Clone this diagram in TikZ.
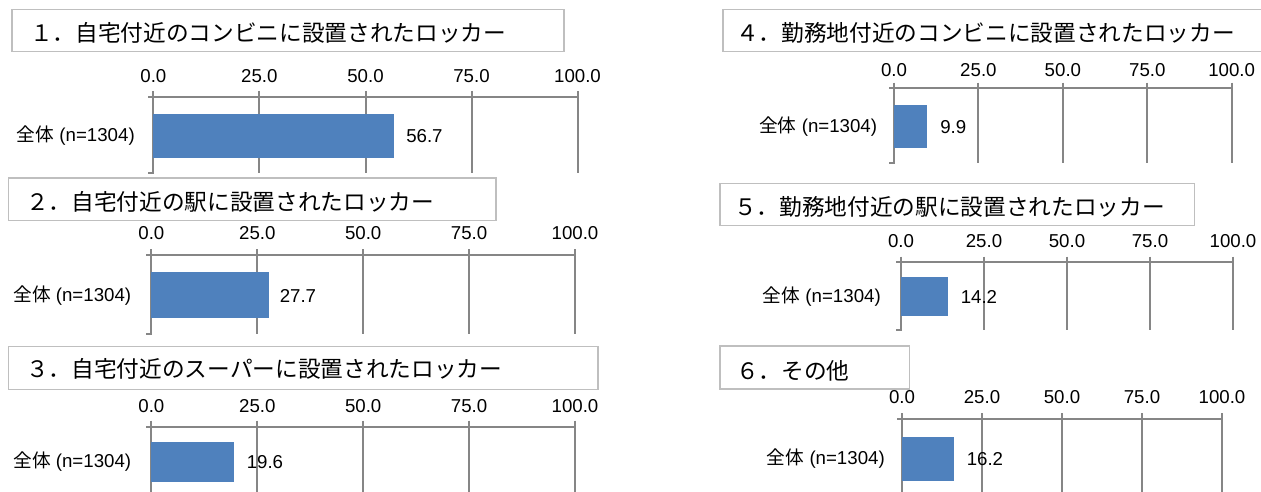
\documentclass[tikz,border=0pt]{standalone}
\usepackage{fontspec}
\setmainfont{Liberation Sans}
\newfontfamily\jpfont{Noto Sans CJK JP}
\usepackage{tikz}

\definecolor{barblue}{RGB}{79,129,189}
\definecolor{gridgray}{RGB}{134,134,134}
\definecolor{boxgray}{RGB}{191,191,191}

\begin{document}
\begin{tikzpicture}[x=0.75pt,y=0.75pt,yscale=-1,xscale=1,
  gridln/.style={draw=gridgray,line width=1.5pt},
  barfill/.style={fill=barblue,draw=none},
  ttlbox/.style={draw=boxgray,line width=1.1pt,fill=white},
  ttltxt/.style={anchor=west,inner sep=0.75pt,font=\jpfont\fontsize{17}{19}\selectfont},
  ticktxt/.style={anchor=center,inner sep=0.75pt,font=\fontsize{14}{16}\selectfont},
  valtxt/.style={anchor=west,inner sep=0.75pt,font=\fontsize{14}{16}\selectfont},
  cattxt/.style={anchor=east,inner sep=0.75pt,font=\fontsize{14}{16}\selectfont}]
\useasboundingbox (0,0) rectangle (1261,492);

%%%%%%%% Panel 1
%Shape: Rectangle
\draw [ttlbox] (12,9.5) rectangle (564,51.7);
\draw (29,33) node [ttltxt] (ttl1) {１．自宅付近のコンビニに設置されたロッカー};
% Text Node
\draw (153.4,76) node [ticktxt] (a1t0) {0.0};
\draw (259.4,76) node [ticktxt] (a1t1) {25.0};
\draw (365.5,76) node [ticktxt] (a1t2) {50.0};
\draw (471.5,76) node [ticktxt] (a1t3) {75.0};
\draw (577.5,76) node [ticktxt] (a1t4) {100.0};
%Straight Lines
\draw [gridln] (148,97) -- (577.5,97);
\draw [gridln] (153.4,91) -- (153.4,173) -- (148,173);
\draw [gridln] (259.4,91) -- (259.4,173);
\draw [gridln] (365.5,91) -- (365.5,173);
\draw [gridln] (471.5,91) -- (471.5,173);
\draw [gridln] (577.5,91) -- (577.5,173);
%Shape: Rectangle
\draw [barfill] (153.4,114) rectangle (394,157.5);
\draw (405,136) node [valtxt] (v1) {56.7};
\draw (136,136) node [cattxt] (c1) {{\jpfont 全体} (n=1304)};

%%%%%%%% Panel 2
%Shape: Rectangle
\draw [ttlbox] (8.7,178) rectangle (496,220.7);
\draw (25,202) node [ttltxt] (ttl2) {２．自宅付近の駅に設置されたロッカー};
% Text Node
\draw (151.4,232.7) node [ticktxt] (a2t0) {0.0};
\draw (257.3,232.7) node [ticktxt] (a2t1) {25.0};
\draw (363.2,232.7) node [ticktxt] (a2t2) {50.0};
\draw (469.1,232.7) node [ticktxt] (a2t3) {75.0};
\draw (575,232.7) node [ticktxt] (a2t4) {100.0};
%Straight Lines
\draw [gridln] (146,255) -- (575,255);
\draw [gridln] (151.4,249) -- (151.4,334) -- (146,334);
\draw [gridln] (257.3,249) -- (257.3,334);
\draw [gridln] (363.2,249) -- (363.2,334);
\draw [gridln] (469.1,249) -- (469.1,334);
\draw [gridln] (575,249) -- (575,334);
%Shape: Rectangle
\draw [barfill] (151.4,272) rectangle (268.7,317.7);
\draw (278.5,295.5) node [valtxt] (v2) {27.7};
\draw (132.4,295.5) node [cattxt] (c2) {{\jpfont 全体} (n=1304)};

%%%%%%%% Panel 3
%Shape: Rectangle
\draw [ttlbox] (8.7,346.7) rectangle (598,389.3);
\draw (25,369) node [ttltxt] (ttl3) {３．自宅付近のスーパーに設置されたロッカー};
% Text Node
\draw (151.4,406) node [ticktxt] (a3t0) {0.0};
\draw (257.3,406) node [ticktxt] (a3t1) {25.0};
\draw (363.2,406) node [ticktxt] (a3t2) {50.0};
\draw (469.1,406) node [ticktxt] (a3t3) {75.0};
\draw (575,406) node [ticktxt] (a3t4) {100.0};
%Straight Lines
\draw [gridln] (146,426.7) -- (575,426.7);
\draw [gridln] (151.4,420.7) -- (151.4,493);
\draw [gridln] (257.3,420.7) -- (257.3,493);
\draw [gridln] (363.2,420.7) -- (363.2,493);
\draw [gridln] (469.1,420.7) -- (469.1,493);
\draw [gridln] (575,420.7) -- (575,493);
%Shape: Rectangle
\draw [barfill] (151.4,442) rectangle (234.4,482);
\draw (245.5,462) node [valtxt] (v3) {19.6};
\draw (132.4,462) node [cattxt] (c3) {{\jpfont 全体} (n=1304)};

%%%%%%%% Panel 4
%Shape: Rectangle
\draw [ttlbox] (723,9.3) rectangle (1275,51.7);
\draw (735,33) node [ttltxt] (ttl4) {４．勤務地付近のコンビニに設置されたロッカー};
% Text Node
\draw (894,70) node [ticktxt] (a4t0) {0.0};
\draw (978.4,70) node [ticktxt] (a4t1) {25.0};
\draw (1062.9,70) node [ticktxt] (a4t2) {50.0};
\draw (1147.3,70) node [ticktxt] (a4t3) {75.0};
\draw (1231.7,70) node [ticktxt] (a4t4) {100.0};
%Straight Lines
\draw [gridln] (889,87.7) -- (1231.7,87.7);
\draw [gridln] (894,82.7) -- (894,163) -- (889,163);
\draw [gridln] (978.4,82.7) -- (978.4,163);
\draw [gridln] (1062.9,82.7) -- (1062.9,163);
\draw [gridln] (1147.3,82.7) -- (1147.3,163);
\draw [gridln] (1231.7,82.7) -- (1231.7,163);
%Shape: Rectangle
\draw [barfill] (894,105) rectangle (927.4,147.7);
\draw (939,127) node [valtxt] (v4) {9.9};
\draw (878.3,127) node [cattxt] (c4) {{\jpfont 全体} (n=1304)};

%%%%%%%% Panel 5
%Shape: Rectangle
\draw [ttlbox] (720,183.3) rectangle (1194.5,225.7);
\draw (733,206.7) node [ttltxt] (ttl5) {５．勤務地付近の駅に設置されたロッカー};
% Text Node
\draw (901,241) node [ticktxt] (a5t0) {0.0};
\draw (984,241) node [ticktxt] (a5t1) {25.0};
\draw (1067,241) node [ticktxt] (a5t2) {50.0};
\draw (1150,241) node [ticktxt] (a5t3) {75.0};
\draw (1233,241) node [ticktxt] (a5t4) {100.0};
%Straight Lines
\draw [gridln] (896,262.3) -- (1233,262.3);
\draw [gridln] (901,256.7) -- (901,330) -- (896,330);
\draw [gridln] (984,256.7) -- (984,330);
\draw [gridln] (1067,256.7) -- (1067,330);
\draw [gridln] (1150,256.7) -- (1150,330);
\draw [gridln] (1233,256.7) -- (1233,330);
%Shape: Rectangle
\draw [barfill] (901,276.7) rectangle (948.1,316);
\draw (959.5,297) node [valtxt] (v5) {14.2};
\draw (882,297) node [cattxt] (c5) {{\jpfont 全体} (n=1304)};

%%%%%%%% Panel 6
%Shape: Rectangle
\draw [ttlbox] (720,346) rectangle (909.6,389);
\draw (735,371) node [ttltxt] (ttl6) {６．その他};
% Text Node
\draw (902,396.7) node [ticktxt] (a6t0) {0.0};
\draw (982,396.7) node [ticktxt] (a6t1) {25.0};
\draw (1062,396.7) node [ticktxt] (a6t2) {50.0};
\draw (1142,396.7) node [ticktxt] (a6t3) {75.0};
\draw (1222,396.7) node [ticktxt] (a6t4) {100.0};
%Straight Lines
\draw [gridln] (897,419.3) -- (1222,419.3);
\draw [gridln] (902,413.3) -- (902,493);
\draw [gridln] (982,413.3) -- (982,493);
\draw [gridln] (1062,413.3) -- (1062,493);
\draw [gridln] (1142,413.3) -- (1142,493);
\draw [gridln] (1222,413.3) -- (1222,493);
%Shape: Rectangle
\draw [barfill] (902,437) rectangle (953.8,481);
\draw (965.5,459) node [valtxt] (v6) {16.2};
\draw (886,459) node [cattxt] (c6) {{\jpfont 全体} (n=1304)};

\end{tikzpicture}
\end{document}
